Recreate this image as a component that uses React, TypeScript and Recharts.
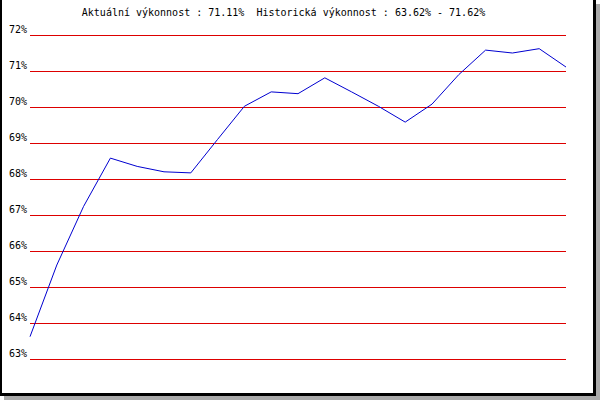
import { CartesianGrid, Line, LineChart, XAxis, YAxis } from "recharts";

const points = ["1", "2", "3", "4", "5", "6", "7", "8", "9", "10", "11", "12", "13", "14", "15", "16", "17", "18", "19", "20", "21"];
const performance = [
  63.62, 65.61, 67.24, 68.58, 68.35, 68.2, 68.17, 69.1, 70.02, 70.42, 70.37, 70.81, 70.42, 70.02, 69.58, 70.08,
  70.9, 71.58, 71.5, 71.62, 71.11
];
const yTicks = [63, 64, 65, 66, 67, 68, 69, 70, 71, 72];
const title = "Aktuální výkonnost : 71.11%  Historická výkonnost : 63.62% - 71.62%";

const data = points.map((label, i) => ({ label, value: performance[i] }));

const mono = "'DejaVu Sans Mono', monospace";

function PercentTick({ x, y, payload }: { x: number; y: number; payload: { value: number } }) {
  return (
    <text x={x + 27} y={y - 2} textAnchor="end" fill="#000" fontSize={10} fontFamily={mono}>
      {`${payload.value}%`}
    </text>
  );
}

export default function App() {
  return (
    <div style={{ position: "fixed", left: 0, top: 0, width: 600, height: 400, background: "#fff" }}>
      <div style={{ position: "absolute", left: 4, top: 4, width: 596, height: 396, background: "#aaaaaa" }} />
      <div
        style={{
          position: "absolute",
          left: 0,
          top: 0,
          width: 596,
          height: 396,
          boxSizing: "border-box",
          background: "#fff",
          borderLeft: "2px solid #000",
          borderRight: "3px solid #000",
          borderBottom: "3px solid #000"
        }}
      />
      <div
        style={{
          position: "absolute",
          left: 0,
          top: 7,
          width: 567,
          textAlign: "center",
          fontFamily: mono,
          fontSize: 10,
          lineHeight: "12px",
          whiteSpace: "pre",
          color: "#000"
        }}
      >
        {title}
      </div>
      <div style={{ position: "absolute", left: 0, top: 0 }}>
        <LineChart width={600} height={400} data={data} margin={{ top: 35, right: 34, bottom: 41, left: 0 }}>
          <CartesianGrid stroke="#dd0000" vertical={false} shapeRendering="crispEdges" />
          <XAxis dataKey="label" hide padding={{ left: 0, right: 0 }} />
          <YAxis
            domain={[63, 72]}
            ticks={yTicks}
            width={30}
            axisLine={false}
            tickLine={false}
            interval={0}
            tick={(props: any) => <PercentTick {...props} x={0} />}
          />
          <Line
            dataKey="value"
            type="linear"
            stroke="#0000d0"
            strokeWidth={1}
            dot={false}
            activeDot={false}
            isAnimationActive={false}
          />
        </LineChart>
      </div>
    </div>
  );
}
